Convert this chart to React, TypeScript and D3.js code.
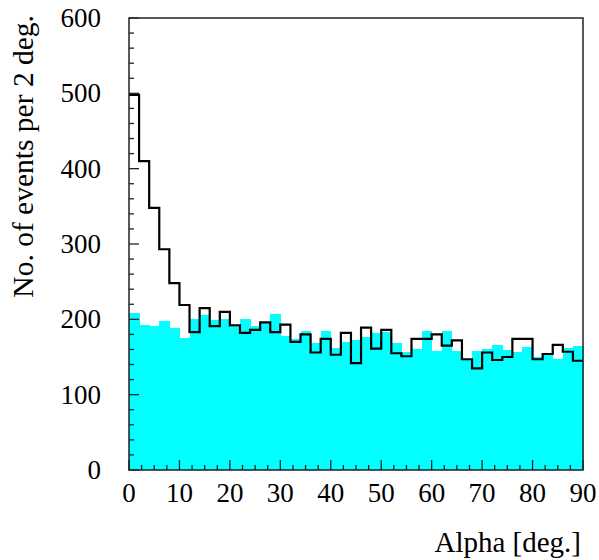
import React, { useEffect, useRef } from "react";
import * as d3 from "d3";

// bins of 2 deg from 0 to 90
const binWidth = 2;
const onData = [
  498, 410, 348, 293, 248, 219, 183, 215, 191, 210,
  192, 182, 186, 196, 183, 193, 170, 180, 156, 174,
  153, 182, 142, 189, 161, 186, 155, 151, 174, 174,
  180, 165, 172, 147, 135, 156, 146, 150, 174, 174,
  147, 154, 166, 157, 145,
];
const offData = [
  208, 193, 191, 198, 188, 175, 200, 206, 199, 200,
  190, 200, 191, 195, 207, 178, 174, 185, 168, 184,
  162, 170, 172, 177, 182, 183, 168, 157, 161, 184,
  158, 185, 158, 147, 158, 161, 166, 159, 156, 163,
  150, 152, 148, 162, 164,
];
const xTicks = [0, 10, 20, 30, 40, 50, 60, 70, 80, 90];
const yTicks = [0, 100, 200, 300, 400, 500, 600];

const App = () => {
  const svgRef = useRef<SVGSVGElement>(null);

  useEffect(() => {
    const w = 599;
    const h = 560;
    const margin = { top: 18, right: 16, bottom: 90, left: 129 };
    const font = "'Liberation Serif', 'Times New Roman', serif";

    const svg = d3.select(svgRef.current)
      .attr("width", w)
      .attr("height", h);
    svg.selectAll("*").remove();

    const x = d3.scaleLinear().domain([0, 90]).range([margin.left, w - margin.right]);
    const y = d3.scaleLinear().domain([0, 600]).range([h - margin.bottom, margin.top]);

    // background (cyan) histogram
    svg.append("g")
      .selectAll("rect")
      .data(offData)
      .join("rect")
      .attr("x", (_, i) => x(i * binWidth))
      .attr("width", x(binWidth) - x(0) + 0.5)
      .attr("y", d => y(d))
      .attr("height", d => y(0) - y(d))
      .attr("fill", "#00ffff")
      .attr("shape-rendering", "crispEdges");

    // signal (black) histogram as steps
    const pts: [number, number][] = onData.map((d, i) => [i * binWidth, d]);
    pts.push([90, onData[onData.length - 1]]);
    const line = d3.line<[number, number]>()
      .x(d => x(d[0]))
      .y(d => y(d[1]))
      .curve(d3.curveStepAfter);
    svg.append("path")
      .attr("d", line(pts))
      .attr("fill", "none")
      .attr("stroke", "#000")
      .attr("stroke-width", 2.2);

    // frame
    svg.append("rect")
      .attr("x", x(0))
      .attr("y", y(600))
      .attr("width", x(90) - x(0))
      .attr("height", y(0) - y(600))
      .attr("fill", "none")
      .attr("stroke", "#222")
      .attr("stroke-width", 1.5);

    // y ticks, pointing inward
    svg.append("g")
      .selectAll("line")
      .data(d3.range(0, 601, 20))
      .join("line")
      .attr("x1", x(0))
      .attr("x2", d => x(0) + (d % 100 === 0 ? 10 : 5))
      .attr("y1", d => y(d))
      .attr("y2", d => y(d))
      .attr("stroke", "#222")
      .attr("stroke-width", 1.3);

    // x ticks, pointing up
    svg.append("g")
      .selectAll("line")
      .data(d3.range(0, 90.1, 2.5))
      .join("line")
      .attr("x1", d => x(d))
      .attr("x2", d => x(d))
      .attr("y1", y(0))
      .attr("y2", d => y(0) - (d % 10 === 0 ? 10 : 5))
      .attr("stroke", "#222")
      .attr("stroke-width", 1.3);

    svg.append("g")
      .selectAll("text")
      .data(yTicks)
      .join("text")
      .attr("x", 101)
      .attr("y", d => y(d) + 9)
      .attr("text-anchor", "end")
      .attr("font-family", font)
      .attr("font-size", 27)
      .text(d => d);

    svg.append("g")
      .selectAll("text")
      .data(xTicks)
      .join("text")
      .attr("x", d => x(d))
      .attr("y", 502)
      .attr("text-anchor", "middle")
      .attr("font-family", font)
      .attr("font-size", 27)
      .text(d => d);

    svg.append("text")
      .attr("x", 581)
      .attr("y", 552)
      .attr("text-anchor", "end")
      .attr("font-family", font)
      .attr("font-size", 29)
      .text("Alpha [deg.]");

    svg.append("text")
      .attr("transform", "translate(33, 15) rotate(-90)")
      .attr("text-anchor", "end")
      .attr("font-family", font)
      .attr("font-size", 29.5)
      .text("No. of events per 2 deg.");
  }, []);

  return (
    <svg ref={svgRef} style={{ position: "absolute", left: 0, top: 0 }}></svg>
  );
};

export default App;
